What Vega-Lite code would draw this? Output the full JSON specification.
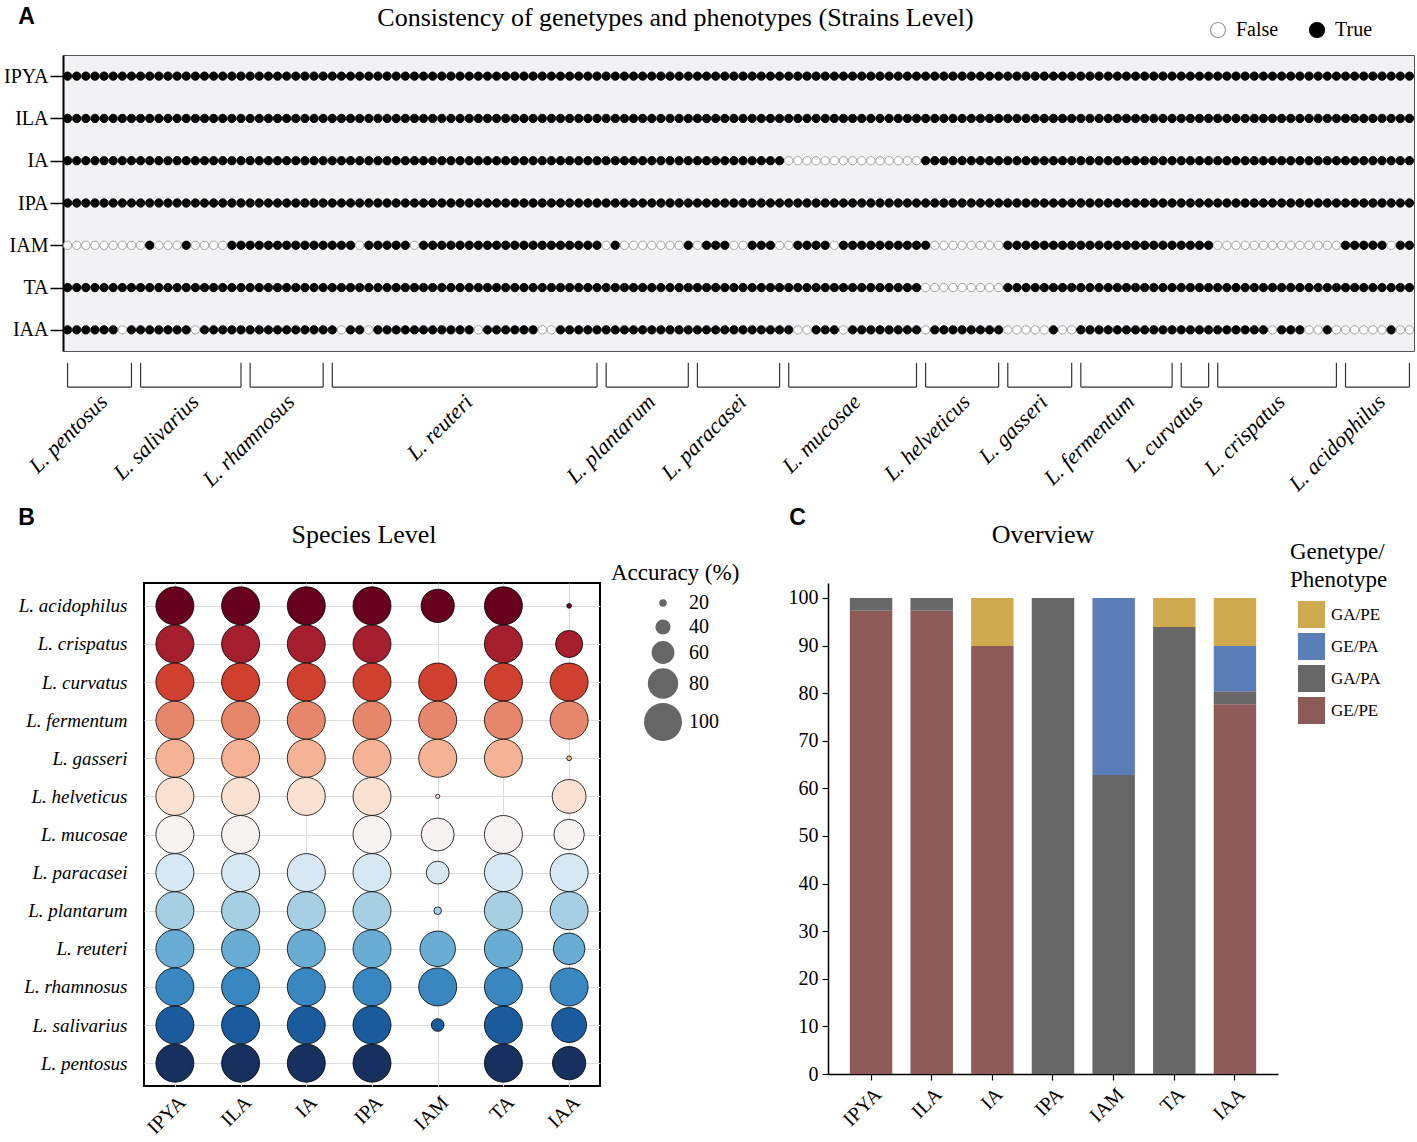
{
 "$schema": "https://vega.github.io/schema/vega-lite/v6.json",
 "background": "white",
 "padding": {"left": 2, "top": 4, "right": 2, "bottom": 2},
 "config": {
  "font": "Liberation Serif",
  "view": {"stroke": null},
  "axis": {"labelFont": "Liberation Serif", "titleFont": "Liberation Serif", "labelColor": "black", "titleColor": "black", "domainColor": "black", "tickColor": "black"},
  "legend": {"labelFont": "Liberation Serif", "titleFont": "Liberation Serif", "labelColor": "black", "titleColor": "black", "titleFontWeight": "normal", "padding": 0},
  "title": {"font": "Liberation Serif", "fontWeight": "normal", "color": "black"}
 },
 "datasets": {
  "strains": [
   {"i":0,"s":"L. pentosus","IPYA":1,"ILA":1,"IA":1,"IPA":1,"IAM":0,"TA":1,"IAA":1},
   {"i":1,"s":"L. pentosus","IPYA":1,"ILA":1,"IA":1,"IPA":1,"IAM":0,"TA":1,"IAA":1},
   {"i":2,"s":"L. pentosus","IPYA":1,"ILA":1,"IA":1,"IPA":1,"IAM":0,"TA":1,"IAA":1},
   {"i":3,"s":"L. pentosus","IPYA":1,"ILA":1,"IA":1,"IPA":1,"IAM":0,"TA":1,"IAA":1},
   {"i":4,"s":"L. pentosus","IPYA":1,"ILA":1,"IA":1,"IPA":1,"IAM":0,"TA":1,"IAA":1},
   {"i":5,"s":"L. pentosus","IPYA":1,"ILA":1,"IA":1,"IPA":1,"IAM":0,"TA":1,"IAA":1},
   {"i":6,"s":"L. pentosus","IPYA":1,"ILA":1,"IA":1,"IPA":1,"IAM":0,"TA":1,"IAA":0},
   {"i":7,"s":"L. pentosus","IPYA":1,"ILA":1,"IA":1,"IPA":1,"IAM":0,"TA":1,"IAA":1},
   {"i":8,"s":"L. salivarius","IPYA":1,"ILA":1,"IA":1,"IPA":1,"IAM":0,"TA":1,"IAA":1},
   {"i":9,"s":"L. salivarius","IPYA":1,"ILA":1,"IA":1,"IPA":1,"IAM":1,"TA":1,"IAA":1},
   {"i":10,"s":"L. salivarius","IPYA":1,"ILA":1,"IA":1,"IPA":1,"IAM":0,"TA":1,"IAA":1},
   {"i":11,"s":"L. salivarius","IPYA":1,"ILA":1,"IA":1,"IPA":1,"IAM":0,"TA":1,"IAA":1},
   {"i":12,"s":"L. salivarius","IPYA":1,"ILA":1,"IA":1,"IPA":1,"IAM":0,"TA":1,"IAA":1},
   {"i":13,"s":"L. salivarius","IPYA":1,"ILA":1,"IA":1,"IPA":1,"IAM":1,"TA":1,"IAA":1},
   {"i":14,"s":"L. salivarius","IPYA":1,"ILA":1,"IA":1,"IPA":1,"IAM":0,"TA":1,"IAA":0},
   {"i":15,"s":"L. salivarius","IPYA":1,"ILA":1,"IA":1,"IPA":1,"IAM":0,"TA":1,"IAA":1},
   {"i":16,"s":"L. salivarius","IPYA":1,"ILA":1,"IA":1,"IPA":1,"IAM":0,"TA":1,"IAA":1},
   {"i":17,"s":"L. salivarius","IPYA":1,"ILA":1,"IA":1,"IPA":1,"IAM":0,"TA":1,"IAA":1},
   {"i":18,"s":"L. salivarius","IPYA":1,"ILA":1,"IA":1,"IPA":1,"IAM":1,"TA":1,"IAA":1},
   {"i":19,"s":"L. salivarius","IPYA":1,"ILA":1,"IA":1,"IPA":1,"IAM":1,"TA":1,"IAA":1},
   {"i":20,"s":"L. rhamnosus","IPYA":1,"ILA":1,"IA":1,"IPA":1,"IAM":1,"TA":1,"IAA":1},
   {"i":21,"s":"L. rhamnosus","IPYA":1,"ILA":1,"IA":1,"IPA":1,"IAM":1,"TA":1,"IAA":1},
   {"i":22,"s":"L. rhamnosus","IPYA":1,"ILA":1,"IA":1,"IPA":1,"IAM":1,"TA":1,"IAA":1},
   {"i":23,"s":"L. rhamnosus","IPYA":1,"ILA":1,"IA":1,"IPA":1,"IAM":1,"TA":1,"IAA":1},
   {"i":24,"s":"L. rhamnosus","IPYA":1,"ILA":1,"IA":1,"IPA":1,"IAM":1,"TA":1,"IAA":1},
   {"i":25,"s":"L. rhamnosus","IPYA":1,"ILA":1,"IA":1,"IPA":1,"IAM":1,"TA":1,"IAA":1},
   {"i":26,"s":"L. rhamnosus","IPYA":1,"ILA":1,"IA":1,"IPA":1,"IAM":1,"TA":1,"IAA":1},
   {"i":27,"s":"L. rhamnosus","IPYA":1,"ILA":1,"IA":1,"IPA":1,"IAM":1,"TA":1,"IAA":1},
   {"i":28,"s":"L. rhamnosus","IPYA":1,"ILA":1,"IA":1,"IPA":1,"IAM":1,"TA":1,"IAA":1},
   {"i":29,"s":"L. reuteri","IPYA":1,"ILA":1,"IA":1,"IPA":1,"IAM":1,"TA":1,"IAA":1},
   {"i":30,"s":"L. reuteri","IPYA":1,"ILA":1,"IA":1,"IPA":1,"IAM":1,"TA":1,"IAA":0},
   {"i":31,"s":"L. reuteri","IPYA":1,"ILA":1,"IA":1,"IPA":1,"IAM":1,"TA":1,"IAA":1},
   {"i":32,"s":"L. reuteri","IPYA":1,"ILA":1,"IA":1,"IPA":1,"IAM":0,"TA":1,"IAA":1},
   {"i":33,"s":"L. reuteri","IPYA":1,"ILA":1,"IA":1,"IPA":1,"IAM":1,"TA":1,"IAA":0},
   {"i":34,"s":"L. reuteri","IPYA":1,"ILA":1,"IA":1,"IPA":1,"IAM":1,"TA":1,"IAA":1},
   {"i":35,"s":"L. reuteri","IPYA":1,"ILA":1,"IA":1,"IPA":1,"IAM":1,"TA":1,"IAA":1},
   {"i":36,"s":"L. reuteri","IPYA":1,"ILA":1,"IA":1,"IPA":1,"IAM":1,"TA":1,"IAA":1},
   {"i":37,"s":"L. reuteri","IPYA":1,"ILA":1,"IA":1,"IPA":1,"IAM":1,"TA":1,"IAA":1},
   {"i":38,"s":"L. reuteri","IPYA":1,"ILA":1,"IA":1,"IPA":1,"IAM":0,"TA":1,"IAA":1},
   {"i":39,"s":"L. reuteri","IPYA":1,"ILA":1,"IA":1,"IPA":1,"IAM":1,"TA":1,"IAA":1},
   {"i":40,"s":"L. reuteri","IPYA":1,"ILA":1,"IA":1,"IPA":1,"IAM":1,"TA":1,"IAA":1},
   {"i":41,"s":"L. reuteri","IPYA":1,"ILA":1,"IA":1,"IPA":1,"IAM":1,"TA":1,"IAA":1},
   {"i":42,"s":"L. reuteri","IPYA":1,"ILA":1,"IA":1,"IPA":1,"IAM":1,"TA":1,"IAA":1},
   {"i":43,"s":"L. reuteri","IPYA":1,"ILA":1,"IA":1,"IPA":1,"IAM":1,"TA":1,"IAA":1},
   {"i":44,"s":"L. reuteri","IPYA":1,"ILA":1,"IA":1,"IPA":1,"IAM":1,"TA":1,"IAA":1},
   {"i":45,"s":"L. reuteri","IPYA":1,"ILA":1,"IA":1,"IPA":1,"IAM":1,"TA":1,"IAA":0},
   {"i":46,"s":"L. reuteri","IPYA":1,"ILA":1,"IA":1,"IPA":1,"IAM":1,"TA":1,"IAA":1},
   {"i":47,"s":"L. reuteri","IPYA":1,"ILA":1,"IA":1,"IPA":1,"IAM":1,"TA":1,"IAA":1},
   {"i":48,"s":"L. reuteri","IPYA":1,"ILA":1,"IA":1,"IPA":1,"IAM":1,"TA":1,"IAA":1},
   {"i":49,"s":"L. reuteri","IPYA":1,"ILA":1,"IA":1,"IPA":1,"IAM":1,"TA":1,"IAA":1},
   {"i":50,"s":"L. reuteri","IPYA":1,"ILA":1,"IA":1,"IPA":1,"IAM":1,"TA":1,"IAA":1},
   {"i":51,"s":"L. reuteri","IPYA":1,"ILA":1,"IA":1,"IPA":1,"IAM":1,"TA":1,"IAA":1},
   {"i":52,"s":"L. reuteri","IPYA":1,"ILA":1,"IA":1,"IPA":1,"IAM":1,"TA":1,"IAA":0},
   {"i":53,"s":"L. reuteri","IPYA":1,"ILA":1,"IA":1,"IPA":1,"IAM":1,"TA":1,"IAA":0},
   {"i":54,"s":"L. reuteri","IPYA":1,"ILA":1,"IA":1,"IPA":1,"IAM":1,"TA":1,"IAA":1},
   {"i":55,"s":"L. reuteri","IPYA":1,"ILA":1,"IA":1,"IPA":1,"IAM":1,"TA":1,"IAA":1},
   {"i":56,"s":"L. reuteri","IPYA":1,"ILA":1,"IA":1,"IPA":1,"IAM":1,"TA":1,"IAA":1},
   {"i":57,"s":"L. reuteri","IPYA":1,"ILA":1,"IA":1,"IPA":1,"IAM":1,"TA":1,"IAA":1},
   {"i":58,"s":"L. reuteri","IPYA":1,"ILA":1,"IA":1,"IPA":1,"IAM":1,"TA":1,"IAA":1},
   {"i":59,"s":"L. plantarum","IPYA":1,"ILA":1,"IA":1,"IPA":1,"IAM":0,"TA":1,"IAA":1},
   {"i":60,"s":"L. plantarum","IPYA":1,"ILA":1,"IA":1,"IPA":1,"IAM":1,"TA":1,"IAA":1},
   {"i":61,"s":"L. plantarum","IPYA":1,"ILA":1,"IA":1,"IPA":1,"IAM":0,"TA":1,"IAA":1},
   {"i":62,"s":"L. plantarum","IPYA":1,"ILA":1,"IA":1,"IPA":1,"IAM":0,"TA":1,"IAA":1},
   {"i":63,"s":"L. plantarum","IPYA":1,"ILA":1,"IA":1,"IPA":1,"IAM":0,"TA":1,"IAA":1},
   {"i":64,"s":"L. plantarum","IPYA":1,"ILA":1,"IA":1,"IPA":1,"IAM":0,"TA":1,"IAA":1},
   {"i":65,"s":"L. plantarum","IPYA":1,"ILA":1,"IA":1,"IPA":1,"IAM":0,"TA":1,"IAA":1},
   {"i":66,"s":"L. plantarum","IPYA":1,"ILA":1,"IA":1,"IPA":1,"IAM":0,"TA":1,"IAA":1},
   {"i":67,"s":"L. plantarum","IPYA":1,"ILA":1,"IA":1,"IPA":1,"IAM":0,"TA":1,"IAA":1},
   {"i":68,"s":"L. plantarum","IPYA":1,"ILA":1,"IA":1,"IPA":1,"IAM":1,"TA":1,"IAA":1},
   {"i":69,"s":"L. paracasei","IPYA":1,"ILA":1,"IA":1,"IPA":1,"IAM":0,"TA":1,"IAA":1},
   {"i":70,"s":"L. paracasei","IPYA":1,"ILA":1,"IA":1,"IPA":1,"IAM":1,"TA":1,"IAA":1},
   {"i":71,"s":"L. paracasei","IPYA":1,"ILA":1,"IA":1,"IPA":1,"IAM":1,"TA":1,"IAA":1},
   {"i":72,"s":"L. paracasei","IPYA":1,"ILA":1,"IA":1,"IPA":1,"IAM":1,"TA":1,"IAA":1},
   {"i":73,"s":"L. paracasei","IPYA":1,"ILA":1,"IA":1,"IPA":1,"IAM":0,"TA":1,"IAA":1},
   {"i":74,"s":"L. paracasei","IPYA":1,"ILA":1,"IA":1,"IPA":1,"IAM":0,"TA":1,"IAA":1},
   {"i":75,"s":"L. paracasei","IPYA":1,"ILA":1,"IA":1,"IPA":1,"IAM":1,"TA":1,"IAA":1},
   {"i":76,"s":"L. paracasei","IPYA":1,"ILA":1,"IA":1,"IPA":1,"IAM":1,"TA":1,"IAA":1},
   {"i":77,"s":"L. paracasei","IPYA":1,"ILA":1,"IA":1,"IPA":1,"IAM":1,"TA":1,"IAA":1},
   {"i":78,"s":"L. paracasei","IPYA":1,"ILA":1,"IA":1,"IPA":1,"IAM":0,"TA":1,"IAA":1},
   {"i":79,"s":"L. mucosae","IPYA":1,"ILA":1,"IA":0,"IPA":1,"IAM":0,"TA":1,"IAA":1},
   {"i":80,"s":"L. mucosae","IPYA":1,"ILA":1,"IA":0,"IPA":1,"IAM":1,"TA":1,"IAA":0},
   {"i":81,"s":"L. mucosae","IPYA":1,"ILA":1,"IA":0,"IPA":1,"IAM":1,"TA":1,"IAA":0},
   {"i":82,"s":"L. mucosae","IPYA":1,"ILA":1,"IA":0,"IPA":1,"IAM":1,"TA":1,"IAA":1},
   {"i":83,"s":"L. mucosae","IPYA":1,"ILA":1,"IA":0,"IPA":1,"IAM":1,"TA":1,"IAA":1},
   {"i":84,"s":"L. mucosae","IPYA":1,"ILA":1,"IA":0,"IPA":1,"IAM":0,"TA":1,"IAA":1},
   {"i":85,"s":"L. mucosae","IPYA":1,"ILA":1,"IA":0,"IPA":1,"IAM":1,"TA":1,"IAA":0},
   {"i":86,"s":"L. mucosae","IPYA":1,"ILA":1,"IA":0,"IPA":1,"IAM":1,"TA":1,"IAA":1},
   {"i":87,"s":"L. mucosae","IPYA":1,"ILA":1,"IA":0,"IPA":1,"IAM":1,"TA":1,"IAA":1},
   {"i":88,"s":"L. mucosae","IPYA":1,"ILA":1,"IA":0,"IPA":1,"IAM":1,"TA":1,"IAA":1},
   {"i":89,"s":"L. mucosae","IPYA":1,"ILA":1,"IA":0,"IPA":1,"IAM":1,"TA":1,"IAA":1},
   {"i":90,"s":"L. mucosae","IPYA":1,"ILA":1,"IA":0,"IPA":1,"IAM":1,"TA":1,"IAA":1},
   {"i":91,"s":"L. mucosae","IPYA":1,"ILA":1,"IA":0,"IPA":1,"IAM":1,"TA":1,"IAA":1},
   {"i":92,"s":"L. mucosae","IPYA":1,"ILA":1,"IA":0,"IPA":1,"IAM":1,"TA":1,"IAA":1},
   {"i":93,"s":"L. mucosae","IPYA":1,"ILA":1,"IA":0,"IPA":1,"IAM":1,"TA":1,"IAA":1},
   {"i":94,"s":"L. helveticus","IPYA":1,"ILA":1,"IA":1,"IPA":1,"IAM":1,"TA":0,"IAA":0},
   {"i":95,"s":"L. helveticus","IPYA":1,"ILA":1,"IA":1,"IPA":1,"IAM":0,"TA":0,"IAA":1},
   {"i":96,"s":"L. helveticus","IPYA":1,"ILA":1,"IA":1,"IPA":1,"IAM":0,"TA":0,"IAA":1},
   {"i":97,"s":"L. helveticus","IPYA":1,"ILA":1,"IA":1,"IPA":1,"IAM":0,"TA":0,"IAA":1},
   {"i":98,"s":"L. helveticus","IPYA":1,"ILA":1,"IA":1,"IPA":1,"IAM":0,"TA":0,"IAA":1},
   {"i":99,"s":"L. helveticus","IPYA":1,"ILA":1,"IA":1,"IPA":1,"IAM":0,"TA":0,"IAA":1},
   {"i":100,"s":"L. helveticus","IPYA":1,"ILA":1,"IA":1,"IPA":1,"IAM":0,"TA":0,"IAA":1},
   {"i":101,"s":"L. helveticus","IPYA":1,"ILA":1,"IA":1,"IPA":1,"IAM":0,"TA":0,"IAA":1},
   {"i":102,"s":"L. helveticus","IPYA":1,"ILA":1,"IA":1,"IPA":1,"IAM":0,"TA":0,"IAA":1},
   {"i":103,"s":"L. gasseri","IPYA":1,"ILA":1,"IA":1,"IPA":1,"IAM":1,"TA":1,"IAA":0},
   {"i":104,"s":"L. gasseri","IPYA":1,"ILA":1,"IA":1,"IPA":1,"IAM":1,"TA":1,"IAA":0},
   {"i":105,"s":"L. gasseri","IPYA":1,"ILA":1,"IA":1,"IPA":1,"IAM":1,"TA":1,"IAA":0},
   {"i":106,"s":"L. gasseri","IPYA":1,"ILA":1,"IA":1,"IPA":1,"IAM":1,"TA":1,"IAA":0},
   {"i":107,"s":"L. gasseri","IPYA":1,"ILA":1,"IA":1,"IPA":1,"IAM":1,"TA":1,"IAA":0},
   {"i":108,"s":"L. gasseri","IPYA":1,"ILA":1,"IA":1,"IPA":1,"IAM":1,"TA":1,"IAA":1},
   {"i":109,"s":"L. gasseri","IPYA":1,"ILA":1,"IA":1,"IPA":1,"IAM":1,"TA":1,"IAA":0},
   {"i":110,"s":"L. gasseri","IPYA":1,"ILA":1,"IA":1,"IPA":1,"IAM":1,"TA":1,"IAA":0},
   {"i":111,"s":"L. fermentum","IPYA":1,"ILA":1,"IA":1,"IPA":1,"IAM":1,"TA":1,"IAA":1},
   {"i":112,"s":"L. fermentum","IPYA":1,"ILA":1,"IA":1,"IPA":1,"IAM":1,"TA":1,"IAA":1},
   {"i":113,"s":"L. fermentum","IPYA":1,"ILA":1,"IA":1,"IPA":1,"IAM":1,"TA":1,"IAA":1},
   {"i":114,"s":"L. fermentum","IPYA":1,"ILA":1,"IA":1,"IPA":1,"IAM":1,"TA":1,"IAA":1},
   {"i":115,"s":"L. fermentum","IPYA":1,"ILA":1,"IA":1,"IPA":1,"IAM":1,"TA":1,"IAA":1},
   {"i":116,"s":"L. fermentum","IPYA":1,"ILA":1,"IA":1,"IPA":1,"IAM":1,"TA":1,"IAA":1},
   {"i":117,"s":"L. fermentum","IPYA":1,"ILA":1,"IA":1,"IPA":1,"IAM":1,"TA":1,"IAA":1},
   {"i":118,"s":"L. fermentum","IPYA":1,"ILA":1,"IA":1,"IPA":1,"IAM":1,"TA":1,"IAA":1},
   {"i":119,"s":"L. fermentum","IPYA":1,"ILA":1,"IA":1,"IPA":1,"IAM":1,"TA":1,"IAA":1},
   {"i":120,"s":"L. fermentum","IPYA":1,"ILA":1,"IA":1,"IPA":1,"IAM":1,"TA":1,"IAA":1},
   {"i":121,"s":"L. fermentum","IPYA":1,"ILA":1,"IA":1,"IPA":1,"IAM":1,"TA":1,"IAA":1},
   {"i":122,"s":"L. curvatus","IPYA":1,"ILA":1,"IA":1,"IPA":1,"IAM":1,"TA":1,"IAA":1},
   {"i":123,"s":"L. curvatus","IPYA":1,"ILA":1,"IA":1,"IPA":1,"IAM":1,"TA":1,"IAA":1},
   {"i":124,"s":"L. curvatus","IPYA":1,"ILA":1,"IA":1,"IPA":1,"IAM":1,"TA":1,"IAA":1},
   {"i":125,"s":"L. curvatus","IPYA":1,"ILA":1,"IA":1,"IPA":1,"IAM":1,"TA":1,"IAA":1},
   {"i":126,"s":"L. crispatus","IPYA":1,"ILA":1,"IA":1,"IPA":1,"IAM":0,"TA":1,"IAA":1},
   {"i":127,"s":"L. crispatus","IPYA":1,"ILA":1,"IA":1,"IPA":1,"IAM":0,"TA":1,"IAA":1},
   {"i":128,"s":"L. crispatus","IPYA":1,"ILA":1,"IA":1,"IPA":1,"IAM":0,"TA":1,"IAA":1},
   {"i":129,"s":"L. crispatus","IPYA":1,"ILA":1,"IA":1,"IPA":1,"IAM":0,"TA":1,"IAA":1},
   {"i":130,"s":"L. crispatus","IPYA":1,"ILA":1,"IA":1,"IPA":1,"IAM":0,"TA":1,"IAA":1},
   {"i":131,"s":"L. crispatus","IPYA":1,"ILA":1,"IA":1,"IPA":1,"IAM":0,"TA":1,"IAA":1},
   {"i":132,"s":"L. crispatus","IPYA":1,"ILA":1,"IA":1,"IPA":1,"IAM":0,"TA":1,"IAA":0},
   {"i":133,"s":"L. crispatus","IPYA":1,"ILA":1,"IA":1,"IPA":1,"IAM":0,"TA":1,"IAA":1},
   {"i":134,"s":"L. crispatus","IPYA":1,"ILA":1,"IA":1,"IPA":1,"IAM":0,"TA":1,"IAA":1},
   {"i":135,"s":"L. crispatus","IPYA":1,"ILA":1,"IA":1,"IPA":1,"IAM":0,"TA":1,"IAA":1},
   {"i":136,"s":"L. crispatus","IPYA":1,"ILA":1,"IA":1,"IPA":1,"IAM":0,"TA":1,"IAA":0},
   {"i":137,"s":"L. crispatus","IPYA":1,"ILA":1,"IA":1,"IPA":1,"IAM":0,"TA":1,"IAA":0},
   {"i":138,"s":"L. crispatus","IPYA":1,"ILA":1,"IA":1,"IPA":1,"IAM":0,"TA":1,"IAA":1},
   {"i":139,"s":"L. crispatus","IPYA":1,"ILA":1,"IA":1,"IPA":1,"IAM":0,"TA":1,"IAA":0},
   {"i":140,"s":"L. acidophilus","IPYA":1,"ILA":1,"IA":1,"IPA":1,"IAM":1,"TA":1,"IAA":0},
   {"i":141,"s":"L. acidophilus","IPYA":1,"ILA":1,"IA":1,"IPA":1,"IAM":1,"TA":1,"IAA":0},
   {"i":142,"s":"L. acidophilus","IPYA":1,"ILA":1,"IA":1,"IPA":1,"IAM":1,"TA":1,"IAA":0},
   {"i":143,"s":"L. acidophilus","IPYA":1,"ILA":1,"IA":1,"IPA":1,"IAM":1,"TA":1,"IAA":0},
   {"i":144,"s":"L. acidophilus","IPYA":1,"ILA":1,"IA":1,"IPA":1,"IAM":1,"TA":1,"IAA":0},
   {"i":145,"s":"L. acidophilus","IPYA":1,"ILA":1,"IA":1,"IPA":1,"IAM":0,"TA":1,"IAA":1},
   {"i":146,"s":"L. acidophilus","IPYA":1,"ILA":1,"IA":1,"IPA":1,"IAM":1,"TA":1,"IAA":0},
   {"i":147,"s":"L. acidophilus","IPYA":1,"ILA":1,"IA":1,"IPA":1,"IAM":1,"TA":1,"IAA":0}
  ],
  "species": [
   {"s":"L. acidophilus","IPYA":100,"ILA":100,"IA":100,"IPA":100,"IAM":87.5,"TA":100,"IAA":12.5},
   {"s":"L. crispatus","IPYA":100,"ILA":100,"IA":100,"IPA":100,"IAM":0,"TA":100,"IAA":71.4},
   {"s":"L. curvatus","IPYA":100,"ILA":100,"IA":100,"IPA":100,"IAM":100,"TA":100,"IAA":100},
   {"s":"L. fermentum","IPYA":100,"ILA":100,"IA":100,"IPA":100,"IAM":100,"TA":100,"IAA":100},
   {"s":"L. gasseri","IPYA":100,"ILA":100,"IA":100,"IPA":100,"IAM":100,"TA":100,"IAA":12.5},
   {"s":"L. helveticus","IPYA":100,"ILA":100,"IA":100,"IPA":100,"IAM":11.1,"TA":0,"IAA":88.9},
   {"s":"L. mucosae","IPYA":100,"ILA":100,"IA":0,"IPA":100,"IAM":86.7,"TA":100,"IAA":80},
   {"s":"L. paracasei","IPYA":100,"ILA":100,"IA":100,"IPA":100,"IAM":60,"TA":100,"IAA":100},
   {"s":"L. plantarum","IPYA":100,"ILA":100,"IA":100,"IPA":100,"IAM":20,"TA":100,"IAA":100},
   {"s":"L. reuteri","IPYA":100,"ILA":100,"IA":100,"IPA":100,"IAM":93.3,"TA":100,"IAA":83.3},
   {"s":"L. rhamnosus","IPYA":100,"ILA":100,"IA":100,"IPA":100,"IAM":100,"TA":100,"IAA":100},
   {"s":"L. salivarius","IPYA":100,"ILA":100,"IA":100,"IPA":100,"IAM":33.3,"TA":100,"IAA":91.7},
   {"s":"L. pentosus","IPYA":100,"ILA":100,"IA":100,"IPA":100,"IAM":0,"TA":100,"IAA":87.5}
  ],
  "overview": [
   {"compound":"IPYA","type":"GE/PE","pct":97.3},
   {"compound":"IPYA","type":"GA/PA","pct":2.7},
   {"compound":"ILA","type":"GE/PE","pct":97.3},
   {"compound":"ILA","type":"GA/PA","pct":2.7},
   {"compound":"IA","type":"GE/PE","pct":89.9},
   {"compound":"IA","type":"GA/PE","pct":10.1},
   {"compound":"IPA","type":"GA/PA","pct":100},
   {"compound":"IAM","type":"GA/PA","pct":62.8},
   {"compound":"IAM","type":"GE/PA","pct":37.2},
   {"compound":"TA","type":"GA/PA","pct":93.9},
   {"compound":"TA","type":"GA/PE","pct":6.1},
   {"compound":"IAA","type":"GE/PE","pct":77.7},
   {"compound":"IAA","type":"GA/PA","pct":2.7},
   {"compound":"IAA","type":"GE/PA","pct":9.5},
   {"compound":"IAA","type":"GA/PE","pct":10.1}
  ],
  "types": [
   {"type":"GE/PE","rank":1},
   {"type":"GA/PA","rank":2},
   {"type":"GE/PA","rank":3},
   {"type":"GA/PE","rank":4}
  ]
 },
 "spacing": 9,
 "resolve": {"scale": {"fill": "independent", "stroke": "independent", "color": "independent", "size": "independent"}, "legend": {"fill": "independent", "stroke": "independent", "color": "independent", "size": "independent"}},
 "vconcat": [
  {
   "spacing": 0,
   "resolve": {"scale": {"fill": "independent", "stroke": "independent", "color": "independent", "size": "independent"}, "legend": {"fill": "independent", "stroke": "independent", "color": "independent", "size": "independent"}},
   "hconcat": [
    {"width": 1, "height": 1, "data": {"values": []}, "mark": "point"},
    {
     "width": 1351,
     "height": 296,
     "title": {"text": "Consistency of genetypes and phenotypes (Strains Level)", "fontSize": 26, "anchor": "middle", "frame": "group", "dx": -63, "offset": -26},
     "view": {"fill": "#f2f2f4", "stroke": "#555555", "strokeWidth": 1},
     "data": {"name": "strains"},
     "resolve": {"scale": {"y": "independent"}},
     "layer": [
      {
       "transform": [{"fold": ["IPYA", "ILA", "IA", "IPA", "IAM", "TA", "IAA"], "as": ["compound", "ok"]}],
       "mark": {"type": "circle", "size": 70, "strokeWidth": 0.9, "opacity": 1},
       "encoding": {
        "x": {"field": "i", "type": "quantitative", "scale": {"domain": [-0.5, 147.5], "nice": false, "zero": false},
              "axis": {"title": null, "labels": false, "tickCount": 148, "tickSize": 6, "tickColor": "#333333", "tickWidth": 1, "domain": false, "grid": true, "gridColor": "#ffffff", "gridWidth": 3.5, "gridOpacity": 1}},
        "y": {"field": "compound", "type": "nominal", "sort": ["IPYA", "ILA", "IA", "IPA", "IAM", "TA", "IAA"], "scale": {"type": "point", "padding": 0.5},
              "axis": {"title": "A", "titleAngle": 0, "titleX": -37, "titleY": -39, "titleAlign": "center", "titleBaseline": "middle", "titleFont": "Liberation Sans", "titleFontWeight": "bold", "titleFontSize": 23,
                       "labelFontSize": 20, "labelPadding": 2, "tickSize": 13, "tickWidth": 1.5, "domainWidth": 2, "grid": false}},
        "fill": {"field": "ok", "type": "nominal", "scale": {"domain": [0, 1], "range": ["#ffffff", "#000000"]},
                 "legend": {"title": null, "values": [0, 1], "orient": "none", "legendX": 1145, "legendY": -35, "direction": "horizontal", "labelExpr": "datum.value == 1 ? 'True' : 'False'", "labelFontSize": 20, "symbolSize": 225, "symbolType": "circle", "symbolStrokeColor": "black", "symbolStrokeWidth": 1.2, "columnPadding": 28, "labelOffset": 8}},
        "stroke": {"field": "ok", "type": "nominal", "scale": {"domain": [0, 1], "range": ["#9a9a9a", "#000000"]}, "legend": null}
       }
      },
      {
       "transform": [{"aggregate": [{"op": "min", "field": "i", "as": "lo"}, {"op": "max", "field": "i", "as": "hi"}, {"op": "mean", "field": "i", "as": "mid"}], "groupby": ["s"]}],
       "layer": [
        {"mark": {"type": "rule", "color": "#333333", "strokeWidth": 1.2},
         "encoding": {"x": {"field": "lo", "type": "quantitative", "axis": null}, "y": {"datum": -0.04, "type": "quantitative", "scale": {"domain": [0, 1]}, "axis": null}, "y2": {"datum": -0.122}}},
        {"mark": {"type": "rule", "color": "#333333", "strokeWidth": 1.2},
         "encoding": {"x": {"field": "hi", "type": "quantitative", "axis": null}, "y": {"datum": -0.04, "type": "quantitative", "scale": {"domain": [0, 1]}, "axis": null}, "y2": {"datum": -0.122}}},
        {"mark": {"type": "rule", "color": "#333333", "strokeWidth": 1.2},
         "encoding": {"x": {"field": "lo", "type": "quantitative", "axis": null}, "x2": {"field": "hi"}, "y": {"datum": -0.122, "type": "quantitative", "scale": {"domain": [0, 1]}, "axis": null}}},
        {"mark": {"type": "text", "angle": 315, "align": "right", "baseline": "middle", "dx": 3, "dy": 3, "font": "Liberation Serif", "fontStyle": "italic", "fontSize": 22, "color": "black"},
         "encoding": {"x": {"field": "mid", "type": "quantitative", "axis": null}, "y": {"datum": -0.16, "type": "quantitative", "scale": {"domain": [0, 1]}, "axis": null}, "text": {"field": "s"}}}
       ]
      }
     ]
    }
   ]
  },
  {
   "spacing": 0,
   "resolve": {"scale": {"fill": "independent", "stroke": "independent", "color": "independent", "size": "independent"}, "legend": {"fill": "independent", "stroke": "independent", "color": "independent", "size": "independent"}},
   "hconcat": [
    {"width": 14, "height": 1, "data": {"values": []}, "mark": "point"},
    {
     "spacing": 47,
     "resolve": {"scale": {"fill": "independent", "stroke": "independent", "color": "independent", "size": "independent"}, "legend": {"fill": "independent", "stroke": "independent", "color": "independent", "size": "independent"}},
     "hconcat": [
      {
       "width": 456,
       "height": 503,
       "title": {"text": "Species Level", "fontSize": 26, "anchor": "middle", "frame": "group", "dx": -8, "offset": -42},
       "view": {"stroke": "black", "strokeWidth": 2},
       "data": {"name": "species"},
       "transform": [{"fold": ["IPYA", "ILA", "IA", "IPA", "IAM", "TA", "IAA"], "as": ["compound", "acc"]}, {"filter": "datum.acc > 0"}],
       "mark": {"type": "circle", "stroke": "black", "strokeWidth": 0.8, "opacity": 1},
       "encoding": {
        "x": {"field": "compound", "type": "nominal", "sort": ["IPYA", "ILA", "IA", "IPA", "IAM", "TA", "IAA"], "scale": {"type": "point", "padding": 0.47, "domain": ["IPYA", "ILA", "IA", "IPA", "IAM", "TA", "IAA"]},
              "axis": {"title": null, "labelAngle": -45, "labelFontSize": 20, "ticks": false, "domain": false, "grid": true, "gridColor": "#dddddd", "gridWidth": 1, "labelPadding": 6}},
        "y": {"field": "s", "type": "nominal", "scale": {"type": "point", "padding": 0.6, "domain": ["L. acidophilus", "L. crispatus", "L. curvatus", "L. fermentum", "L. gasseri", "L. helveticus", "L. mucosae", "L. paracasei", "L. plantarum", "L. reuteri", "L. rhamnosus", "L. salivarius", "L. pentosus"]},
              "axis": {"title": "B", "titleAngle": 0, "titleX": -118, "titleY": -66, "titleAlign": "center", "titleBaseline": "middle", "titleFont": "Liberation Sans", "titleFontWeight": "bold", "titleFontSize": 23,
                       "labelFontSize": 19, "labelFontStyle": "italic", "ticks": false, "domain": false, "grid": true, "gridColor": "#dddddd", "gridWidth": 1, "labelPadding": 17}},
        "size": {"field": "acc", "type": "quantitative", "scale": {"type": "pow", "exponent": 2, "domain": [0, 100], "range": [0, 1444]},
                 "legend": {"title": "Accuracy (%)", "orient": "none", "legendX": 467, "legendY": -21, "titleFontSize": 23, "labelFontSize": 20, "values": [20, 40, 60, 80, 100], "symbolFillColor": "#666666", "symbolStrokeWidth": 0, "symbolType": "circle", "symbolOffset": 33, "labelOffset": 7, "rowPadding": 4, "titlePadding": 8}},
        "fill": {"field": "s", "type": "nominal", "scale": {"domain": ["L. acidophilus", "L. crispatus", "L. curvatus", "L. fermentum", "L. gasseri", "L. helveticus", "L. mucosae", "L. paracasei", "L. plantarum", "L. reuteri", "L. rhamnosus", "L. salivarius", "L. pentosus"],
                 "range": ["#67001f", "#a41e2e", "#d0402f", "#e6866a", "#f5b295", "#fbe1d2", "#f6f3f2", "#d6e8f3", "#a7cfe4", "#69acd4", "#3987c0", "#1a5b9d", "#16305f"]}, "legend": null}
       }
      },
      {
       "width": 450,
       "height": 491,
       "title": {"text": "Overview", "fontSize": 26, "anchor": "middle", "frame": "group", "dx": -10, "offset": -42},
       "data": {"name": "overview"},
       "transform": [{"lookup": "type", "from": {"data": {"name": "types"}, "key": "type", "fields": ["rank"]}}],
       "mark": {"type": "bar"},
       "encoding": {
        "x": {"field": "compound", "type": "nominal", "sort": ["IPYA", "ILA", "IA", "IPA", "IAM", "TA", "IAA"], "scale": {"paddingInner": 0.3, "paddingOuter": 0.36},
              "axis": {"title": null, "labelAngle": -45, "labelFontSize": 20, "tickSize": 6, "tickWidth": 1.2, "domainWidth": 1.5, "labelPadding": 4}},
        "y": {"field": "pct", "type": "quantitative", "stack": "zero", "scale": {"domain": [0, 103.15], "nice": false},
              "axis": {"title": "C", "titleAngle": 0, "titleX": -31, "titleY": -66, "titleAlign": "center", "titleBaseline": "middle", "titleFont": "Liberation Sans", "titleFontWeight": "bold", "titleFontSize": 23,
                       "values": [0, 10, 20, 30, 40, 50, 60, 70, 80, 90, 100], "labelFontSize": 20, "grid": false, "tickSize": 6, "tickWidth": 1.2, "domainWidth": 1.5, "labelPadding": 4}},
        "color": {"field": "type", "type": "nominal", "scale": {"domain": ["GA/PE", "GE/PA", "GA/PA", "GE/PE"], "range": ["#cfaa4f", "#5b7db8", "#676767", "#8e5a58"]},
                  "legend": {"title": ["Genetype/", "Phenotype"], "orient": "none", "legendX": 462, "legendY": -42, "titleFontSize": 23, "titleLineHeight": 28, "labelFontSize": 17, "symbolType": "square", "symbolSize": 729, "symbolStrokeWidth": 0, "symbolOpacity": 1, "rowPadding": 5, "titlePadding": 9, "symbolOffset": 8, "labelOffset": 6}},
        "order": {"field": "rank", "type": "quantitative", "sort": "ascending"}
       }
      }
     ]
    }
   ]
  }
 ]
}
